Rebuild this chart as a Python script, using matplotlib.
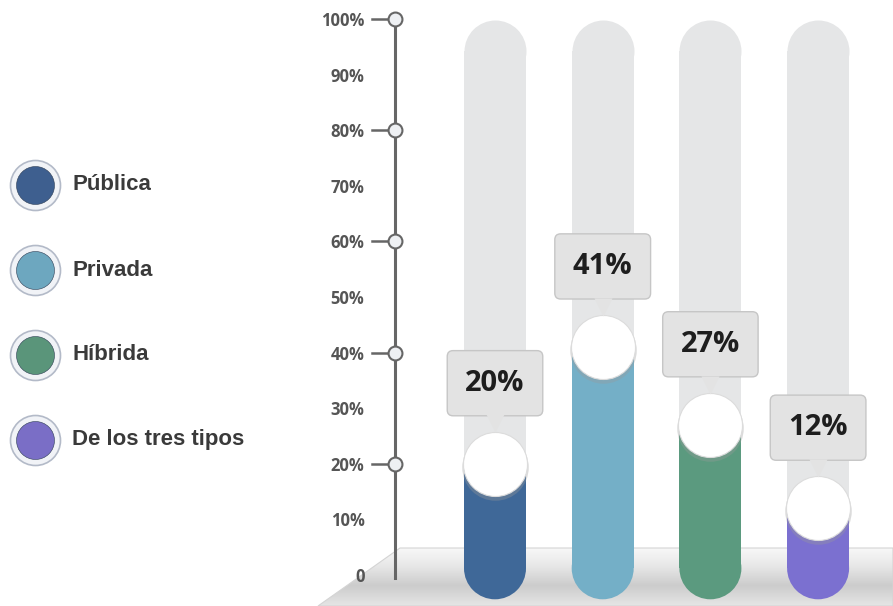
import matplotlib
matplotlib.use("Agg")
import matplotlib.pyplot as plt
import matplotlib.transforms as mtransforms
from matplotlib.patches import Polygon
import numpy as np

# data
categories = ["Pública", "Privada", "Híbrida", "De los tres tipos"]
values = [20, 41, 27, 12]
value_labels = ["20%", "41%", "27%", "12%"]
bar_colors = ["#3f6898", "#74afc7", "#5b9a7f", "#7b70d0"]
legend_colors = ["#3e5f8f", "#6da7bf", "#5a957a", "#7a6ec6"]
yticks = [0, 10, 20, 30, 40, 50, 60, 70, 80, 90, 100]
ytick_labels = ["0", "10%", "20%", "30%", "40%", "50%", "60%", "70%", "80%", "90%", "100%"]

W, H = 893, 606
fig = plt.figure(figsize=(W / 100, H / 100), dpi=100)

# background layer in pixel units (floor + legend)
bg = fig.add_axes([0, 0, 1, 1])
bg.set_xlim(0, W)
bg.set_ylim(H, 0)
bg.axis("off")

floor = Polygon([(318, 606), (400, 548), (893, 548), (893, 606)], closed=True,
                facecolor="none", edgecolor="#d4d4d4", lw=0.8)
bg.add_patch(floor)
stops = np.array([[0.0, 0.97], [0.3, 0.91], [0.65, 0.80], [1.0, 0.90]])
t = np.linspace(0, 1, 100)
g = np.interp(t, stops[:, 0], stops[:, 1])
grad = np.dstack([g, g, g]).reshape(100, 1, 3)
im = bg.imshow(grad, extent=(300, 893, 606, 548), aspect="auto", zorder=0)
im.set_clip_path(floor)

# legend
for i, (cat, c) in enumerate(zip(categories, legend_colors)):
    ly = 185 + 85 * i
    bg.scatter(35, ly, s=(50 * 0.72) ** 2, color="#f1f3f7", edgecolors="#b3bac8", lw=1.2, zorder=3)
    bg.scatter(35, ly, s=(38 * 0.72) ** 2, color=c, edgecolors="#2f3f55", lw=0.4, zorder=4)
    bg.text(72, ly, cat, va="center", ha="left", fontsize=16, fontweight="bold",
            family="Liberation Sans", color="#3a3a3a")

# main chart
ax = fig.add_axes([0, 0, 1, 1])
ax.patch.set_alpha(0)
x = np.arange(len(values))
step = 107.7
ax.set_xlim(-495 / step, (W - 495) / step)
ax.set_ylim(-5.58, 103.4)

axis_x = -100 / step
for s in ["top", "right", "bottom"]:
    ax.spines[s].set_visible(False)
ax.spines["left"].set_position(("data", axis_x))
ax.spines["left"].set_bounds(-0.5, 100)
ax.spines["left"].set_color("#666666")
ax.spines["left"].set_linewidth(2.2)
ax.set_xticks([])
ax.set_yticks(yticks, ytick_labels)
ax.tick_params(axis="y", length=0, pad=22, labelsize=12, labelcolor="#555555")
for lab in ax.get_yticklabels():
    lab.set_fontweight("bold")
    lab.set_family("Open Sans")

for v in yticks[2::2]:
    ax.plot([axis_x - 23 / step, axis_x - 7 / step], [v, v], color="#666666", lw=1.8, zorder=3)
    ax.plot(axis_x, v, "o", ms=10, mfc="#eef0f3", mec="#666666", mew=1.5, zorder=4)

bw = 62 / step
cap_s = (62 * 0.72) ** 2
base_v = 1.2
top_v = 94.2

# grey tracks
ax.bar(x, top_v - base_v, bottom=base_v, width=bw, color="#e5e6e7", zorder=2)
ax.scatter(x, [top_v] * len(x), s=cap_s, color="#e5e6e7", lw=0, zorder=2)

# coloured fills
ax.bar(x, np.array(values) - base_v, bottom=base_v, width=bw, color=bar_colors, zorder=3)
ax.scatter(x, [base_v] * len(x), s=cap_s, c=bar_colors, lw=0, zorder=3)

# knobs
knob_s = (64 * 0.72) ** 2
shadow = mtransforms.offset_copy(ax.transData, fig=fig, x=0, y=-2, units="points")
ax.scatter(x, values, s=knob_s * 1.08, color="#9a9a9a", alpha=0.35, lw=0, transform=shadow, zorder=4)
ax.scatter(x, values, s=knob_s, color="white", edgecolors="#dcdcdc", lw=0.8, zorder=5)

# callouts
for xi, v, lab in zip(x, values, value_labels):
    ax.annotate(lab, xy=(xi, v), xytext=(0, 58), textcoords="offset points",
                ha="center", va="center", fontsize=21, fontweight="bold",
                family="Open Sans", color="#1e1e1e",
                bbox=dict(boxstyle="round,pad=0.62,rounding_size=0.2",
                          fc="#e3e3e3", ec="#c6c6c6", lw=1), zorder=6)
ptr = mtransforms.offset_copy(ax.transData, fig=fig, x=0, y=29, units="points")
ax.scatter(x, values, marker="v", s=170, color="#e3e3e3", lw=0, transform=ptr, zorder=7)

fig.savefig("out.png", dpi=100)
